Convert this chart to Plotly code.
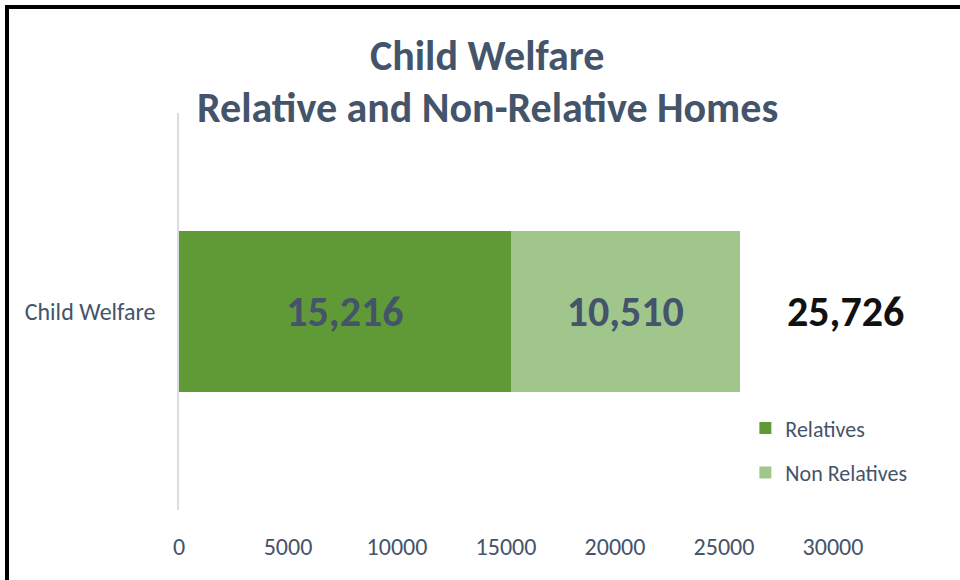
import plotly.graph_objects as go

categories = ["Child Welfare"]
series_names = ["Relatives", "Non Relatives"]
relatives = [15216]
non_relatives = [10510]
x_ticks = [0, 5000, 10000, 15000, 20000, 25000, 30000]
title_lines = ["Child Welfare", "Relative and Non-Relative Homes"]

FONT = "Calibri, Carlito, Lato, sans-serif"
SLATE = "#44546A"
colors = ["#609A36", "#A1C68C"]

fig = go.Figure()
for name, vals, col in zip(series_names, [relatives, non_relatives], colors):
    fig.add_trace(go.Bar(
        y=categories, x=vals, name=name, orientation="h", legendgroup=name,
        marker=dict(color=col, line=dict(width=0)),
        text=[f"{v:,}" for v in vals], textposition="inside",
        insidetextanchor="middle",
        textfont=dict(family=FONT, size=42, color=SLATE, weight="bold"),
    ))

totals = [a + b for a, b in zip(relatives, non_relatives)]
for cat, t in zip(categories, totals):
    fig.add_annotation(x=t, y=cat, xref="x", yref="y", text=f"<b>{t:,}</b>",
                       showarrow=False, xanchor="left", xshift=45,
                       font=dict(family=FONT, size=42, color="#111111"))

fig.add_annotation(x=0.471, y=1.146, xref="paper", yref="paper",
                   text=f"<b>{title_lines[0]}</b>", showarrow=False,
                   xanchor="center", yanchor="middle",
                   font=dict(family=FONT, size=42, color=SLATE))
fig.add_annotation(x=0.471, y=1.015, xref="paper", yref="paper",
                   text=f"<b>{title_lines[1]}</b>", showarrow=False,
                   xanchor="center", yanchor="middle",
                   font=dict(family=FONT, size=42, color=SLATE))

# frame
fig.add_shape(type="rect", xref="paper", yref="paper",
              x0=-0.263, x1=1.3, y0=-0.3, y1=1.267,
              line=dict(color="black", width=4), fillcolor="rgba(0,0,0,0)")

fig.update_layout(
    width=960, height=580,
    margin=dict(l=179, r=127, t=113, b=70),
    paper_bgcolor="white", plot_bgcolor="white",
    barmode="stack", bargap=0.595,
    font=dict(family=FONT, color=SLATE, size=22),
    showlegend=True,
    legend=dict(x=0.866, y=0.259, xanchor="left", yanchor="top",
                traceorder="grouped", font=dict(family=FONT, size=22, color=SLATE),
                itemwidth=30, tracegroupgap=13, bgcolor="rgba(0,0,0,0)"),
    xaxis=dict(range=[0, 30000], tickvals=x_ticks, ticktext=[str(v) for v in x_ticks],
               showgrid=False, zeroline=False, showline=False,
               ticks="outside", ticklen=15, tickcolor="rgba(0,0,0,0)",
               tickfont=dict(family=FONT, size=24, color=SLATE)),
    yaxis=dict(showgrid=False, zeroline=False, showline=True, linecolor="#D9DDE3",
               linewidth=1.5, ticks="outside", ticklen=17, tickcolor="rgba(0,0,0,0)",
               tickfont=dict(family=FONT, size=24, color=SLATE)),
)

fig.write_html("out.html", config={"displayModeBar": False},
               post_script="document.body.style.margin='0';")
